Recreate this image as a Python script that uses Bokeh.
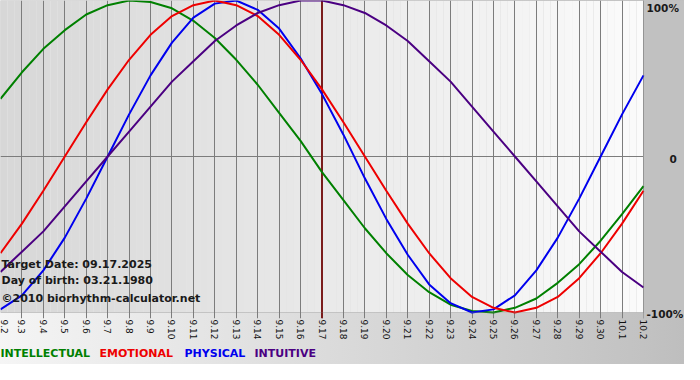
import math
from bokeh.plotting import figure
from bokeh.layouts import column
from bokeh.models import Range1d, FixedTicker, Span, Label, BoxAnnotation
from bokeh.embed import file_html
from bokeh.resources import INLINE

# ---- data ----
days = ["9.2", "9.3", "9.4", "9.5", "9.6", "9.7", "9.8", "9.9", "9.10", "9.11",
        "9.12", "9.13", "9.14", "9.15", "9.16", "9.17", "9.18", "9.19", "9.20",
        "9.21", "9.22", "9.23", "9.24", "9.25", "9.26", "9.27", "9.28", "9.29",
        "9.30", "10.1", "10.2"]

intellectual = [0.37, 0.54, 0.69, 0.81, 0.91, 0.97, 1.00, 0.99, 0.95, 0.87, 0.76,
                0.62, 0.46, 0.28, 0.10, -0.10, -0.28, -0.46, -0.62, -0.76, -0.87,
                -0.95, -0.99, -1.00, -0.97, -0.91, -0.81, -0.69, -0.54, -0.37, -0.19]
emotional = [-0.62, -0.43, -0.22, 0.00, 0.22, 0.43, 0.62, 0.78, 0.90, 0.97, 1.00,
             0.97, 0.90, 0.78, 0.62, 0.43, 0.22, 0.00, -0.22, -0.43, -0.62, -0.78,
             -0.90, -0.97, -1.00, -0.97, -0.90, -0.78, -0.62, -0.43, -0.22]
physical = [-0.98, -0.89, -0.73, -0.52, -0.27, 0.00, 0.27, 0.52, 0.73, 0.89, 0.98,
            1.00, 0.94, 0.82, 0.63, 0.40, 0.14, -0.14, -0.40, -0.63, -0.82, -0.94,
            -1.00, -0.98, -0.89, -0.73, -0.52, -0.27, 0.00, 0.27, 0.52]
intuitive = [-0.74, -0.61, -0.48, -0.32, -0.16, 0.00, 0.16, 0.32, 0.48, 0.61, 0.74,
             0.84, 0.92, 0.97, 1.00, 1.00, 0.97, 0.92, 0.84, 0.74, 0.61, 0.48, 0.32,
             0.16, 0.00, -0.16, -0.32, -0.48, -0.61, -0.74, -0.84]

series_names = ["INTELLECTUAL", "EMOTIONAL", "PHYSICAL", "INTUITIVE"]
series_colors = ["#008000", "#ee0000", "#0000ee", "#4b0082"]
target_day = "9.17"
info_lines = ["Target Date: 09.17.2025", "Day of birth: 03.21.1980",
              "\u00a92010 biorhythm-calculator.net"]
pct_ticks = [1, 0, -1]
pct_labels = ["100%", "0", "-100%"]

# ---- layout constants (pixels) ----
FONT = "DejaVu Sans"
W = 684
PLOT_W = 643          # width of the dated area
PLOT_H = 312          # height of the -100%..100% area
EXTRA_BELOW = 6       # tick stubs below the -100% line
BOTTOM = 28
GRADIENT = {"background": "linear-gradient(to right, #f5f5f5 0%, #c2c2c2 94%, #bebebe 100%)"}

x = list(range(len(days)))
n = len(days) - 1
x_end = n * W / PLOT_W
y_bottom = 1 - 2 * (PLOT_H + EXTRA_BELOW) / PLOT_H

p = figure(width=W, height=PLOT_H + EXTRA_BELOW + BOTTOM,
           x_range=Range1d(0, x_end), y_range=Range1d(y_bottom, 1),
           output_backend="svg", toolbar_location=None, y_axis_location=None,
           min_border_left=0, min_border_right=0, min_border_top=0,
           min_border_bottom=BOTTOM)
p.styles = GRADIENT
p.border_fill_color = None
p.background_fill_color = None
p.outline_line_color = None

# plotting-area gradient (style only)
nb = 90
lefts = [n * k / nb for k in range(nb)]
rights = [n * (k + 1) / nb for k in range(nb)]
cols = []
for k in range(nb):
    t = (k + 0.5) / nb
    v = int(round(215 + (251 - 215) * t))
    cols.append("#%02x%02x%02x" % (v, v, v))
p.quad(left=lefts, right=rights, bottom=-1, top=1, fill_color=cols,
       line_color=None, level="image")

# grid
p.xgrid.ticker = FixedTicker(ticks=x)
p.xgrid.grid_line_color = "#7c7c7c"
p.xgrid.grid_line_width = 1
p.ygrid.ticker = FixedTicker(ticks=[0])
p.ygrid.grid_line_color = "#7c7c7c"
p.ygrid.grid_line_width = 1

# right grey strip (covers grid lines beyond the last day)
p.quad(left=[n], right=[x_end], bottom=[y_bottom], top=[1],
       fill_color="#c1c1c1", line_color=None)

# border of the plotting area
p.add_layout(BoxAnnotation(left=0, right=n, bottom=-1, top=1, fill_alpha=0,
                           line_color="#7c7c7c", line_width=1, level="guide"))

# x axis
ax = p.xaxis[0]
ax.ticker = FixedTicker(ticks=x)
ax.major_label_overrides = {i: d for i, d in enumerate(days)}
ax.major_label_orientation = -math.pi / 2
ax.major_label_text_font = FONT
ax.major_label_text_font_size = "9px"
ax.major_label_text_color = "#111111"
ax.major_label_standoff = 1
ax.major_tick_out = 0
ax.major_tick_in = 0
ax.major_tick_line_color = None
ax.minor_tick_line_color = None
ax.axis_line_color = None

# target date line
p.add_layout(Span(location=days.index(target_day), dimension="height",
                  line_color="#7a1c1c", line_width=2, level="underlay"))

# curves
for ys, c in zip([intellectual, physical, emotional, intuitive],
                 [series_colors[0], series_colors[2], series_colors[1], series_colors[3]]):
    p.line(x, ys, line_color=c, line_width=2)

# info texts
for txt, yy in zip(info_lines, [54, 38, 20]):
    p.add_layout(Label(x=1, y=yy, x_units="screen", y_units="screen", text=txt,
                       text_font=FONT, text_font_size="11px", text_font_style="bold",
                       text_color="#1a1a1a", text_baseline="middle"))

# right-side percentage labels
for val, txt, xo, yo in zip(pct_ticks, pct_labels, [3, 26, 3], [-7, -2, -1]):
    p.add_layout(Label(x=n, y=val, x_offset=xo, y_offset=yo, text=txt,
                       text_font=FONT, text_font_size="10.5px", text_font_style="bold",
                       text_color="#1a1a1a", text_baseline="middle"))

# legend strip
lf = figure(width=W, height=18, x_range=Range1d(0, W), y_range=Range1d(0, 18),
            output_backend="svg", toolbar_location=None, x_axis_location=None,
            y_axis_location=None, min_border=0)
lf.styles = GRADIENT
lf.border_fill_color = None
lf.background_fill_color = None
lf.outline_line_color = None
lf.grid.visible = False
for name, c, xx in zip(series_names, series_colors, [0, 99, 184, 254]):
    lf.add_layout(Label(x=xx, y=11, text=name, text_font=FONT, text_font_size="11px",
                        text_font_style="bold", text_color=c, text_baseline="middle"))

layout = column(p, lf, spacing=0)
open("out.html", "w").write(file_html(layout, INLINE))
